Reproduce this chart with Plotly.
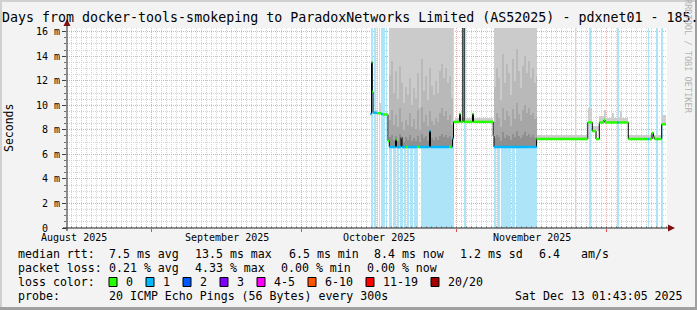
import numpy as np
import pandas as pd
import plotly.graph_objects as go

# ---------------- data ----------------
START = pd.Timestamp("2025-08-15 01:43:05")
END = pd.Timestamp("2025-12-13 01:43:05")
Y_MAX = 16.3
Y_TICKS = [0, 2, 4, 6, 8, 10, 12, 14, 16]
Y_TICK_TEXT = ["0\u00a0\u00a0", "2 m", "4 m", "6 m", "8 m", "10 m", "12 m", "14 m", "16 m"]
MONTH_STARTS = ["2025-09-01", "2025-10-01", "2025-11-01", "2025-12-01"]
MONTH_LABEL_AT = ["2025-08-16 12:00", "2025-09-16", "2025-10-16 12:00", "2025-11-16"]
MONTH_LABELS = ["August 2025", "September 2025", "October 2025", "November 2025"]

LOSS_LABELS = ["0", "1", "2", "3", "4-5", "6-10", "11-19", "20/20"]
LOSS_COLORS = ["#26ff00", "#00b8ff", "#0059ff", "#7e00ff", "#ff00ff", "#ff5500", "#ff0000", "#a10000"]

# median rtt steps: start (days after START), median (ms), loss class
MED_T = [60.70, 60.90, 61.06, 61.20, 62.00, 62.80, 63.20, 64.20, 64.46, 65.70,
         65.90, 66.80, 67.00, 67.80, 68.20, 70.00, 70.60, 72.50, 72.70, 76.40,
         76.80, 77.10, 77.30, 78.50, 78.70, 79.16, 79.44, 81.10, 81.30, 85.24,
         85.40, 93.92, 104.16, 105.06, 105.80, 106.46, 107.40, 107.60, 110.00, 110.30,
         112.26, 116.20, 116.40, 117.00, 117.30, 117.50, 118.00, 118.20, 118.94]
MED_V = [9.3, 13.5, 11.1, 9.4, 9.35, 9.3, 9.25, 7.1, 6.6, 7.2,
         6.6, 7.4, 6.6, 6.6, 6.6, 6.6, 6.6, 7.9, 6.6, 6.6,
         6.6, 7.3, 8.65, 9.3, 8.65, 17.0, 8.65, 9.3, 8.65, 7.5,
         6.6, 7.25, 8.6, 7.9, 7.25, 8.6, 8.8, 8.6, 8.6, 8.6,
         7.25, 7.25, 7.25, 7.75, 7.4, 7.25, 7.25, 7.25, 8.45]
MED_LOSS = [1, 0, 0, 1, 0, 1, 0, 0, 1, 0,
            1, 1, 1, 0, 1, 0, 1, 1, 1, 0,
            1, 1, 0, 0, 0, 0, 0, 0, 0, 1,
            1, 0, 0, 0, 0, 0, 0, 0, 1, 0,
            0, 1, 0, 0, 0, 0, 1, 0, 0]
MED_END = 119.8

# light blue packet-loss background bars (start, end in days after START)
LOSS_T0 = [60.90, 61.46, 62.06, 62.40, 62.80, 63.14, 63.46, 63.80, 64.40, 65.20,
           65.90, 66.60, 67.30, 68.00, 68.60, 69.40, 70.80, 79.40, 85.46, 86.00,
           86.80, 89.00, 89.70, 101.60, 104.40, 109.94, 116.20, 117.94, 118.74]
LOSS_T1 = [61.06, 61.74, 62.20, 62.54, 62.94, 63.26, 63.60, 63.94, 65.00, 65.70,
           66.40, 67.10, 67.80, 68.40, 69.20, 70.20, 77.40, 79.74, 85.80, 86.60,
           88.80, 89.50, 94.06, 101.80, 104.70, 110.46, 116.40, 118.14, 119.14]

# heavy smoke, period A (samples start times, layer tops in ms)
SMOKE_A_T = [64.4, 64.8, 65.2, 65.6, 66.0, 66.4, 66.8, 67.2, 67.6, 68.0,
             68.4, 68.8, 69.2, 69.6, 70.0, 70.4, 70.8, 71.2, 71.6, 72.0,
             72.4, 72.8, 73.2, 73.6, 74.0, 74.4, 74.8, 75.2, 75.6, 76.0,
             76.4, 76.8]
SMOKE_A_END = 77.2
SMOKE_A_MID = [12.5, 13.6, 11.0, 12.8, 10.5, 13.2, 11.8, 10.2, 11.5, 10.8,
               12.2, 10.0, 11.4, 10.6, 12.6, 9.8, 13.8, 11.2, 12.4, 10.4,
               13.0, 11.6, 10.8, 12.0, 11.0, 12.8, 13.4, 12.2, 13.0, 11.8,
               12.4, 10.6]
SMOKE_A_DARK = [8.8, 9.6, 8.4, 9.2, 8.2, 9.8, 8.6, 8.0, 8.8, 8.4,
                9.4, 8.2, 8.9, 8.1, 9.6, 8.0, 9.9, 8.6, 9.2, 8.3,
                9.5, 8.7, 8.4, 9.0, 8.6, 9.4, 9.8, 9.1, 9.5, 8.8,
                9.2, 8.4]
SMOKE_A_CORE = [7.4, 7.6, 7.2, 7.5, 7.1, 7.7, 7.3, 7.0, 7.4, 7.2,
                7.6, 7.1, 7.3, 7.1, 7.5, 7.0, 7.7, 7.3, 7.5, 7.1,
                7.6, 7.3, 7.2, 7.4, 7.2, 7.5, 7.7, 7.4, 7.6, 7.3,
                7.5, 7.2]

# heavy smoke, period B
SMOKE_B_T = [85.4, 85.8, 86.2, 86.6, 87.0, 87.4, 87.8, 88.2, 88.6, 89.0,
             89.4, 89.8, 90.2, 90.6, 91.0, 91.4, 91.8, 92.2, 92.6, 93.0,
             93.4, 93.8]
SMOKE_B_END = 94.0
SMOKE_B_MID = [11.5, 13.0, 12.2, 10.4, 14.2, 11.8, 13.4, 12.6, 10.8, 13.8,
               12.0, 14.6, 12.8, 11.4, 13.2, 14.0, 12.6, 13.6, 12.2, 13.0,
               11.8, 12.4]
SMOKE_B_DARK = [8.6, 9.4, 9.0, 8.2, 9.8, 8.8, 9.5, 9.1, 8.3, 9.7,
                8.9, 10.2, 9.3, 8.7, 9.6, 10.0, 9.4, 9.8, 9.2, 9.4,
                8.9, 9.0]
SMOKE_B_CORE = [7.3, 7.6, 7.4, 7.1, 7.8, 7.3, 7.6, 7.5, 7.2, 7.7,
                7.4, 7.9, 7.5, 7.3, 7.6, 7.8, 7.5, 7.7, 7.4, 7.6,
                7.3, 7.4]

# thin smoke above the median elsewhere (start, end, top ms)
THIN_T0 = [62.5, 77.6, 94.0, 104.2, 105.0, 106.4, 107.4, 107.8, 109.0, 109.4, 110.6, 111.0, 112.2, 119.0]
THIN_T1 = [62.7, 85.2, 104.2, 105.0, 106.4, 107.4, 107.8, 109.0, 109.4, 110.6, 111.0, 112.2, 119.0, 119.8]
THIN_TOP = [10.2, 8.95, 7.55, 9.8, 8.3, 9.1, 9.6, 9.0, 9.4, 9.0, 9.5, 9.0, 7.55, 9.2]

# legend / statistics text
STAT_ROWS = [
    [("median rtt:", 16), ("7.5 ms avg", 107), ("13.5 ms max", 193), ("6.5 ms min", 287),
     ("8.4 ms now", 372), ("1.2 ms sd", 458), ("6.4", 537), ("am/s", 579)],
    [("packet loss:", 16), ("0.21 % avg", 107), ("4.33 % max", 193), ("0.00 % min", 279),
     ("0.00 % now", 365)],
    [("loss color:", 16)],
    [("probe:", 16), ("20 ICMP Echo Pings (56 Bytes) every 300s", 107),
     ("Sat Dec 13 01:43:05 2025", 513)],
]
STAT_ROW_Y = [254, 268, 282, 296]
TITLE = "Days from docker-tools-smokeping to ParadoxNetworks Limited (AS52025) - pdxnet01 - 185."

# ---------------- layout geometry ----------------
W, H = 697, 310
PL, PR, PT, PB = 67, 667, 28, 228
FONT = "DejaVu Sans Mono"


def px(x):
    return (x - PL) / (PR - PL)


def py(y):
    return (PB - y) / (PB - PT)


def ts(d):
    return START + pd.to_timedelta(np.asarray(d, dtype=float), unit="D")


med_t = np.array(MED_T)
med_v = np.array(MED_V)


def median_at(d):
    idx = np.searchsorted(med_t, np.asarray(d, float), side="right") - 1
    idx = np.clip(idx, 0, len(med_v) - 1)
    return med_v[idx]


def bars(t0, t1, top, base, color):
    t0 = np.asarray(t0, float)
    t1 = np.asarray(t1, float)
    top = np.asarray(top, float)
    base = np.asarray(base, float)
    h = np.maximum(top - base, 0)
    return go.Bar(x=ts((t0 + t1) / 2), y=h, base=base,
                  width=(t1 - t0) * 86400000.0,
                  marker=dict(color=color, line=dict(width=0)),
                  hoverinfo="skip", showlegend=False)


fig = go.Figure()

# loss background
fig.add_trace(bars(LOSS_T0, LOSS_T1, [Y_MAX] * len(LOSS_T0), [0] * len(LOSS_T0), "#ade4f8"))

# thin smoke
thin_c = (np.array(THIN_T0) + np.array(THIN_T1)) / 2
fig.add_trace(bars(THIN_T0, THIN_T1, THIN_TOP, median_at(thin_c), "#cdcdcd"))

# heavy smoke
for T, END_T, MID, DARK, CORE in [(SMOKE_A_T, SMOKE_A_END, SMOKE_A_MID, SMOKE_A_DARK, SMOKE_A_CORE),
                                  (SMOKE_B_T, SMOKE_B_END, SMOKE_B_MID, SMOKE_B_DARK, SMOKE_B_CORE)]:
    t0 = np.array(T)
    t1 = np.append(t0[1:], END_T)
    base = median_at((t0 + t1) / 2)
    fig.add_trace(bars(t0, t1, [Y_MAX] * len(t0), base, "#cbcbcb"))
    fig.add_trace(bars(t0, t1, MID, base, "#b9b9b9"))
    fig.add_trace(bars(t0, t1, DARK, base, "#a6a6a6"))
    fig.add_trace(bars(t0, t1, CORE, base, "#8f8f8f"))

# black median step line
fig.add_trace(go.Scatter(x=ts(list(MED_T) + [MED_END]), y=list(MED_V) + [MED_V[-1]],
                         mode="lines", line=dict(color="#000000", width=1, shape="hv"),
                         hoverinfo="skip", showlegend=False))

# loss coloured median
t_next = list(MED_T[1:]) + [MED_END]
for k, col in enumerate(LOSS_COLORS):
    xs, ys = [], []
    for a, b, v, l in zip(MED_T, t_next, MED_V, MED_LOSS):
        if l == k:
            xs += [ts(a), ts(b), None]
            ys += [v, v, None]
    if xs:
        fig.add_trace(go.Scatter(x=xs, y=ys, mode="lines",
                                 line=dict(color=col, width=2.5),
                                 hoverinfo="skip", showlegend=False, connectgaps=False))

GRID = "#d4d4d4"
MGRID = "#eeaaaa"

fig.update_layout(
    width=W, height=H,
    margin=dict(l=PL, r=W - PR, t=PT, b=H - PB, pad=0),
    paper_bgcolor="#f3f3f3", plot_bgcolor="#ffffff",
    barmode="overlay", bargap=0, showlegend=False,
    font=dict(family=FONT, size=10, color="#000000"),
    xaxis=dict(type="date", range=[START, END], showgrid=True,
               tickmode="array", tickvals=MONTH_STARTS, showticklabels=False,
               gridcolor=MGRID, griddash="1px,1px", gridwidth=1,
               ticks="outside", ticklen=3, tickcolor="#e05050",
               showline=False, zeroline=False, fixedrange=True,
               minor=dict(dtick=86400000, tick0="2025-08-01", showgrid=True,
                          gridcolor=GRID, griddash="1px,1px", gridwidth=1,
                          ticks="inside", ticklen=2, tickcolor="#a0a0a0")),
    yaxis=dict(range=[0, Y_MAX], tickmode="array", tickvals=Y_TICKS, ticktext=Y_TICK_TEXT,
               showgrid=True, gridcolor=MGRID, griddash="1px,1px", gridwidth=1,
               ticks="outside", ticklen=4, tickcolor="#404040",
               tickfont=dict(family=FONT, size=10, color="#000000"),
               showline=False, zeroline=False, fixedrange=True,
               minor=dict(dtick=0.5, tick0=0, showgrid=True, gridcolor=GRID,
                          griddash="1px,1px", gridwidth=1,
                          ticks="outside", ticklen=2, tickcolor="#707070")),
)

shapes = []
# 3D frame
shapes.append(dict(type="rect", xref="paper", yref="paper", x0=px(0), x1=px(W), y0=py(0), y1=py(2),
                   fillcolor="#d0d0d0", line=dict(width=0), layer="below"))
shapes.append(dict(type="rect", xref="paper", yref="paper", x0=px(0), x1=px(2), y0=py(0), y1=py(H),
                   fillcolor="#d0d0d0", line=dict(width=0), layer="below"))
shapes.append(dict(type="rect", xref="paper", yref="paper", x0=px(W - 2), x1=px(W), y0=py(0), y1=py(H),
                   fillcolor="#a0a0a0", line=dict(width=0), layer="above"))
shapes.append(dict(type="rect", xref="paper", yref="paper", x0=px(0), x1=px(W), y0=py(H - 3), y1=py(H),
                   fillcolor="#a0a0a0", line=dict(width=0), layer="above"))
# axes
shapes.append(dict(type="line", xref="paper", yref="paper", x0=px(63), x1=px(670), y0=py(PB), y1=py(PB),
                   line=dict(color="#202020", width=1), layer="above"))
shapes.append(dict(type="line", xref="paper", yref="paper", x0=px(PL), x1=px(PL), y0=py(231), y1=py(24),
                   line=dict(color="#202020", width=1), layer="above"))
# arrows
shapes.append(dict(type="path", xref="paper", yref="paper",
                   path=f"M {px(67)} {py(19)} L {px(63.5)} {py(26)} L {px(70.5)} {py(26)} Z",
                   fillcolor="#801010", line=dict(width=0), layer="above"))
shapes.append(dict(type="path", xref="paper", yref="paper",
                   path=f"M {px(675)} {py(228)} L {px(668)} {py(224.5)} L {px(668)} {py(231.5)} Z",
                   fillcolor="#801010", line=dict(width=0), layer="above"))

annotations = []


def ann(text, x, y, size=11.6, xanchor="left", color="#000000", angle=0, xref="paper"):
    annotations.append(dict(text=text, x=x if xref != "paper" else px(x), y=py(y),
                            xref=xref, yref="paper", xanchor=xanchor, yanchor="middle",
                            showarrow=False, textangle=angle,
                            font=dict(family=FONT, size=size, color=color)))


ann(TITLE, 0, 18, size=13.3)
ann("RRDTOOL / TOBI OETIKER", 688, 56, size=8.6, xanchor="center", color="#b4b4b4", angle=90)
ann("Seconds", 9, 128, size=11.5, xanchor="center", angle=-90)
for lab, at in zip(MONTH_LABELS, MONTH_LABEL_AT):
    ann(lab, at, 237.5, size=10, xanchor="center", xref="x")
for row, yy in zip(STAT_ROWS, STAT_ROW_Y):
    for text, xx in row:
        ann(text.replace(" ", "\u00a0"), xx, yy)

# loss colour legend boxes
CHAR_W = 7.0
bx = 109
for lab, col in zip(LOSS_LABELS, LOSS_COLORS):
    shapes.append(dict(type="rect", xref="paper", yref="paper", x0=px(bx), x1=px(bx + 8),
                       y0=py(286.5), y1=py(277.5), fillcolor=col,
                       line=dict(color="#000000", width=1), layer="above"))
    tx = bx + 15
    ann(lab, tx, STAT_ROW_Y[2])
    bx = tx + CHAR_W * len(lab) + 15

fig.update_layout(shapes=shapes, annotations=annotations)
fig.write_html("out.html")
